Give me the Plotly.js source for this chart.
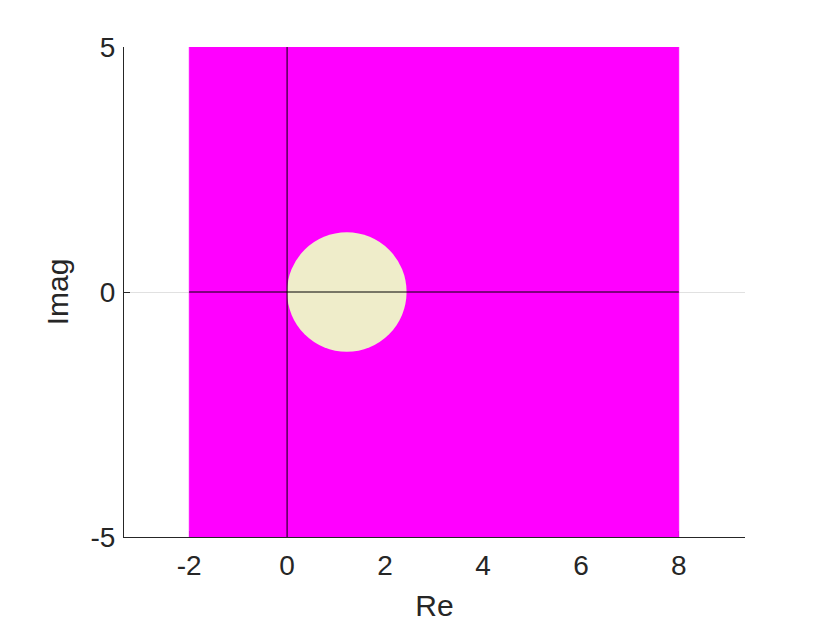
<!DOCTYPE html>
<html>
<head>
<meta charset="utf-8">
<script src="https://cdn.plot.ly/plotly-3.0.1.min.js"></script>
<style>
  html, body { margin: 0; padding: 0; background: #fff; }
  #chart { width: 840px; height: 630px; }
</style>
</head>
<body>
<div id="chart"></div>
<script>
// ─────────────────────────────
// DATOS
// ─────────────────────────────
const regionRe = [-2, 8];        // extent of the shaded region (real axis)
const regionIm = [-5, 5];        // extent of the shaded region (imag axis)
const discCenter = [1.22, 0];    // centre of the pale disc
const discRadius = 1.22;
const xTicks = [-2, 0, 2, 4, 6, 8];
const yTicks = [-5, 0, 5];
const xRange = [-3.33, 9.35];
const yRange = [-5, 5];

const INK = '#262626';
const FONT = 'Liberation Sans, Arial, sans-serif';

// ─────────────────────────────
// TRAZAS
// ─────────────────────────────
const region = {
  x: [regionRe[0], regionRe[1], regionRe[1], regionRe[0], regionRe[0]],
  y: [regionIm[0], regionIm[0], regionIm[1], regionIm[1], regionIm[0]],
  type: 'scatter',
  mode: 'lines',
  fill: 'toself',
  fillcolor: '#ff00ff',
  line: { color: '#ff00ff', width: 0.5 },
  cliponaxis: false,
  hoverinfo: 'skip',
  showlegend: false
};

// ─────────────────────────────
// LAYOUT
// ─────────────────────────────
const layout = {
  width: 840,
  height: 630,
  margin: { l: 124, r: 95, t: 47, b: 93 },
  paper_bgcolor: '#fff',
  plot_bgcolor: '#fff',
  showlegend: false,
  font: { family: FONT, color: INK, size: 28 },
  xaxis: {
    range: xRange,
    tickvals: xTicks,
    ticktext: xTicks.map(String),
    ticks: 'inside',
    ticklen: 6,
    tickcolor: INK,
    showline: true,
    linecolor: INK,
    linewidth: 1,
    showgrid: false,
    zeroline: false,
    layer: 'below traces',
    ticklabelstandoff: 3,
    tickfont: { family: FONT, size: 28, color: INK },
    title: { text: 'Re', font: { family: FONT, size: 30, color: INK }, standoff: 15 }
  },
  yaxis: {
    range: yRange,
    tickvals: yTicks,
    ticktext: yTicks.map(String),
    ticks: 'inside',
    ticklen: 6,
    tickcolor: INK,
    showline: true,
    linecolor: INK,
    linewidth: 1,
    showgrid: true,
    gridcolor: '#e1e1e1',
    gridwidth: 1,
    zeroline: false,
    layer: 'below traces',
    ticklabelstandoff: 2,
    tickfont: { family: FONT, size: 28, color: INK },
    title: { text: 'Imag', font: { family: FONT, size: 30, color: INK }, standoff: 12 }
  },
  shapes: [
    {
      type: 'circle', xref: 'x', yref: 'y', layer: 'above',
      x0: discCenter[0] - discRadius, x1: discCenter[0] + discRadius,
      y0: discCenter[1] - discRadius, y1: discCenter[1] + discRadius,
      fillcolor: '#efedca', line: { width: 0 }
    },
    {
      type: 'line', xref: 'x', yref: 'y', layer: 'above',
      x0: regionRe[0], x1: regionRe[1], y0: 0, y1: 0,
      line: { color: '#000', width: 1 }
    },
    {
      type: 'line', xref: 'x', yref: 'y', layer: 'above',
      x0: 0, x1: 0, y0: regionIm[0], y1: regionIm[1],
      line: { color: '#000', width: 1 }
    }
  ]
};

Plotly.newPlot('chart', [region], layout, { displayModeBar: false, staticPlot: true });
</script>
</body>
</html>
